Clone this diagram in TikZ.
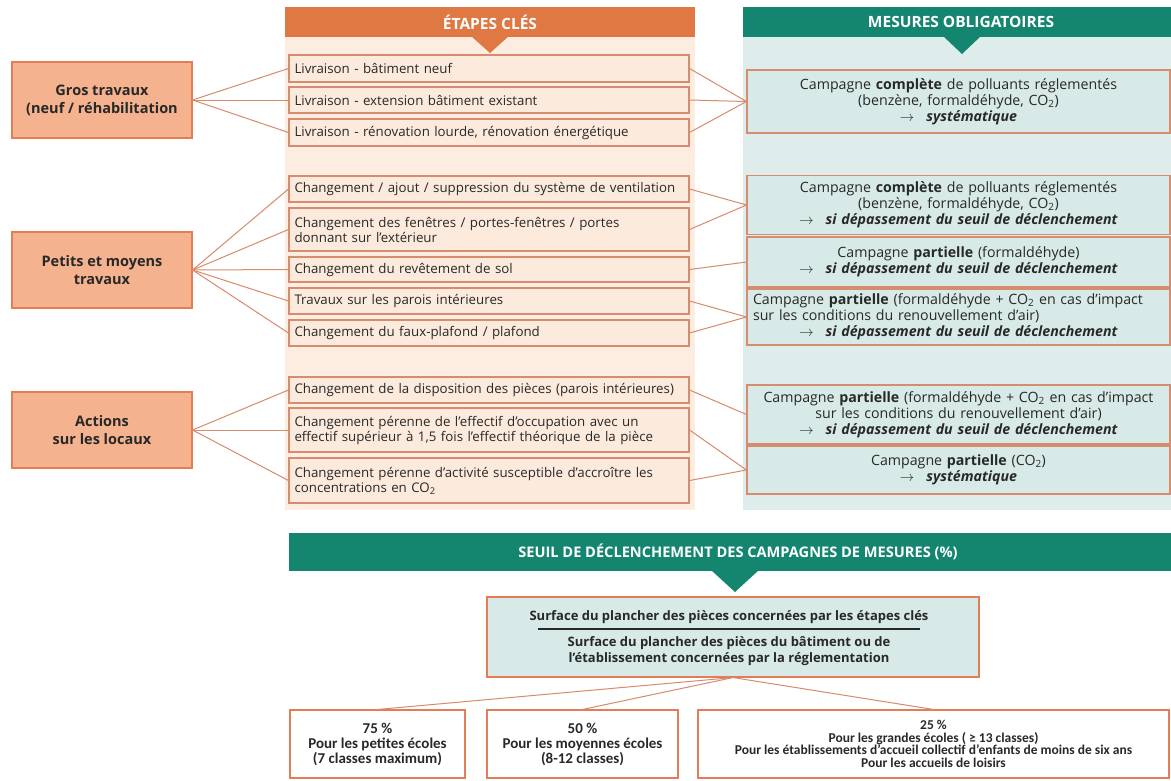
\documentclass[tikz,border=0pt]{standalone}
\usepackage{fontspec}
\setmainfont{Open Sans}
\newfontfamily\condf{Carlito}
\definecolor{orangeH}{RGB}{224,120,68}
\definecolor{peachBg}{RGB}{253,237,225}
\definecolor{midFill}{RGB}{252,234,221}
\definecolor{midDraw}{RGB}{214,140,110}
\definecolor{leftFill}{RGB}{244,178,143}
\definecolor{leftDraw}{RGB}{226,125,85}
\definecolor{tealH}{RGB}{20,134,112}
\definecolor{tealBg}{RGB}{222,237,235}
\definecolor{rFill}{RGB}{215,234,231}
\definecolor{lineC}{RGB}{216,138,108}
\definecolor{txt}{RGB}{40,40,40}
\newcommand{\arr}{$\rightarrow$\hspace{12pt}}
\begin{document}
\begin{tikzpicture}[x=1pt,y=-1pt,
  hdr/.style={text=white, font=\bfseries\fontsize{15.5}{17}\selectfont},
  midbox/.style={draw=midDraw, fill=midFill, line width=1.1pt, text width=389pt, inner xsep=5.5pt, inner ysep=0pt, align=left, text=txt, font=\fontsize{13.3}{15}\selectfont},
  leftbox/.style={draw=leftDraw, fill=leftFill, line width=1.1pt, minimum width=180pt, minimum height=76pt, align=center, text=txt, font=\bfseries\fontsize{14.5}{18}\selectfont},
  rbox/.style={draw=midDraw, fill=rFill, line width=1.1pt, text width=411pt, inner xsep=6pt, inner ysep=0pt, align=center, text=txt, font=\fontsize{14.2}{16}\selectfont},
  botbox/.style={draw=leftDraw, fill=white, line width=1.1pt, inner xsep=4pt, inner ysep=0pt, align=center, text=txt, font=\condf\bfseries\fontsize{15}{15}\selectfont},
  conn/.style={draw=lineC, line width=1pt}]
\useasboundingbox (0,0) rectangle (1171,780);
\fill[white] (0,0) rectangle (1171,780);
% column backgrounds and headers
\fill[peachBg] (285,37) rectangle (695,510);
\fill[orangeH] (285,7) rectangle (695,37);
\fill[orangeH] (471,36) -- (509,36) -- (490,53) -- cycle;
\node[hdr] (h1) at (490,22) {ÉTAPES CLÉS};
\fill[tealBg] (743,37) rectangle (1171,510);
\fill[tealH] (743,7) rectangle (1171,37);
\fill[tealH] (943,36) -- (981,36) -- (962,54) -- cycle;
\node[hdr] (h2) at (961,22) {MESURES OBLIGATOIRES};
% left boxes
\node[leftbox] (g1) at (102,100) {Gros travaux\\(neuf / réhabilitation};
\node[leftbox] (g2) at (102,270) {Petits et moyens\\travaux};
\node[leftbox] (g3) at (102,430) {Actions\\sur les locaux};
% middle boxes
\node[midbox, minimum height=27pt] (m1) at (489,68.5) {Livraison - bâtiment neuf};
\node[midbox, minimum height=26pt] (m2) at (489,100) {Livraison - extension bâtiment existant};
\node[midbox, minimum height=27pt] (m3) at (489,132.5) {Livraison - rénovation lourde, rénovation énergétique};
\node[midbox, minimum height=26pt] (m4) at (489,189) {\mbox{Changement / ajout / suppression du système de ventilation}};
\node[midbox, minimum height=43pt] (m5) at (489,229.5) {Changement des fenêtres / portes-fenêtres / portes\\donnant sur l’extérieur};
\node[midbox, minimum height=25pt] (m6) at (489,269.5) {Changement du revêtement de sol};
\node[midbox, minimum height=26pt] (m7) at (489,301) {Travaux sur les parois intérieures};
\node[midbox, minimum height=26pt] (m8) at (489,333) {Changement du faux-plafond / plafond};
\node[midbox, minimum height=26pt] (m9) at (489,390) {\mbox{Changement de la disposition des pièces (parois intérieures)}};
\node[midbox, minimum height=44pt] (m10) at (489,430) {Changement pérenne de l’effectif d’occupation avec un\\effectif supérieur à 1,5 fois l’effectif théorique de la pièce};
\node[midbox, minimum height=45pt] (m11) at (489,480.5) {Changement pérenne d’activité susceptible d’accroître les\\concentrations en CO\textsubscript{2}};
% right boxes
\node[rbox, minimum height=63pt] (r1) at (958.5,101.5) {Campagne \textbf{complète} de polluants réglementés\\(benzène, formaldéhyde, CO\textsubscript{2})\\\arr\textbf{\textit{systématique}}};
\node[rbox, minimum height=59pt] (r2) at (958.5,205) {Campagne \textbf{complète} de polluants réglementés\\(benzène, formaldéhyde, CO\textsubscript{2})\\\arr\textbf{\textit{si dépassement du seuil de déclenchement}}};
\node[rbox, minimum height=50pt] (r3) at (958.5,262) {Campagne \textbf{partielle} (formaldéhyde)\\\arr\textbf{\textit{si dépassement du seuil de déclenchement}}};
\node[rbox, minimum height=56pt, align=left] (r4) at (958.5,317) {Campagne \textbf{partielle} (formaldéhyde + CO\textsubscript{2} en cas d’impact\\sur les conditions du renouvellement d’air)\par{\centering\arr\textbf{\textit{si dépassement du seuil de déclenchement}}\par}};
\node[rbox, minimum height=59pt] (r5) at (958.5,414.5) {Campagne \textbf{partielle} (formaldéhyde + CO\textsubscript{2} en cas d’impact\\sur les conditions du renouvellement d’air)\\\arr\textbf{\textit{si dépassement du seuil de déclenchement}}};
\node[rbox, minimum height=48pt] (r6) at (958.5,470) {Campagne \textbf{partielle} (CO\textsubscript{2})\\\arr\textbf{\textit{systématique}}};
% connectors
\foreach \m in {m1,m2,m3} {\draw[conn] (g1.east) -- (\m.west); \draw[conn] (\m.east) -- (r1.west);}
\foreach \m in {m4,m5,m6,m7,m8} {\draw[conn] (g2.east) -- (\m.west);}
\foreach \m in {m9,m10,m11} {\draw[conn] (g3.east) -- (\m.west);}
\draw[conn] (m4.east) -- (r2.west);
\draw[conn] (m5.east) -- (r2.west);
\draw[conn] (m6.east) -- (r3.west);
\draw[conn] (m7.east) -- (r4.west);
\draw[conn] (m8.east) -- (r4.west);
\draw[conn] (m9.east) -- (r5.west);
\draw[conn] (m10.east) -- (r6.west);
\draw[conn] (m11.east) -- (r6.west);
% bottom section
\fill[tealH] (289,533) rectangle (1171,571);
\fill[tealH] (711,570) -- (759,570) -- (735,592) -- cycle;
\node[text=white, font=\fontsize{14.6}{16}\selectfont\bfseries] (s) at (738,552) {SEUIL DE DÉCLENCHEMENT DES CAMPAGNES DE MESURES (\%)};
\node[draw=leftDraw, fill=rFill, line width=1.1pt, minimum width=492pt, minimum height=80pt] (f) at (733,637) {};
\node[text=txt, font=\bfseries\fontsize{13}{15}\selectfont] (fn) at (729,617) {Surface du plancher des pièces concernées par les étapes clés};
\node[text=txt, font=\bfseries\fontsize{13}{16}\selectfont, align=center] (fd) at (729,651) {Surface du plancher des pièces du bâtiment ou de\\l’établissement concernées par la réglementation};
\coordinate (fl1) at (538,629);
\coordinate (fl2) at (920,629);
\draw[txt, line width=1.2pt] (fl1) -- (fl2);
\node[botbox, minimum width=175pt, minimum height=68pt] (b1) at (377.5,744) {75 \%\\Pour les petites écoles\\(7 classes maximum)};
\node[botbox, minimum width=191pt, minimum height=68pt] (b2) at (582.5,744) {50 \%\\Pour les moyennes écoles\\(8-12 classes)};
\node[botbox, minimum width=471pt, minimum height=68pt, font=\condf\bfseries\fontsize{13.5}{12.5}\selectfont] (b3) at (933.5,744) {25 \%\\Pour les grandes écoles ( ≥ 13 classes)\\Pour les établissements d’accueil collectif d’enfants de moins de six ans\\Pour les accueils de loisirs};
\draw[conn] (f.south) -- (b1.north);
\draw[conn] (f.south) -- (b2.north);
\draw[conn] (f.south) -- (b3.north);
\end{tikzpicture}
\end{document}
